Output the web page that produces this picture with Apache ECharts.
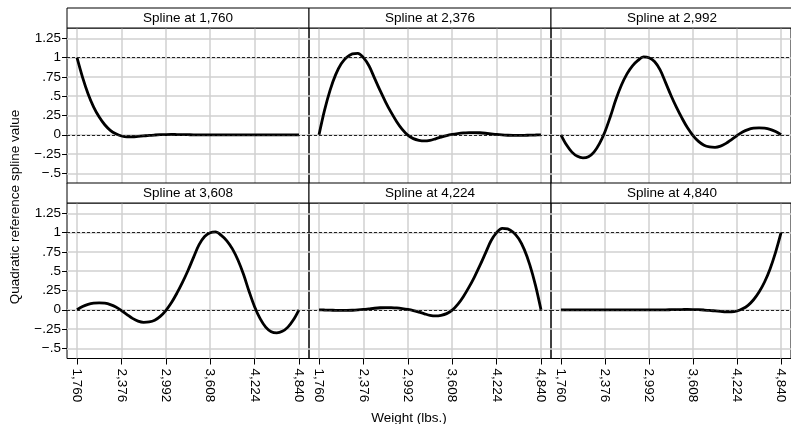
<!DOCTYPE html>
<html>
<head>
<meta charset="utf-8">
<script src="https://cdn.jsdelivr.net/npm/echarts@6/dist/echarts.min.js"></script>
<style>
  html, body { margin: 0; padding: 0; background: #fff; }
  #chart { width: 791px; height: 424px; }
</style>
</head>
<body>
<div id="chart"></div>
<script>
const weights = [1760, 1837, 1914, 1991, 2068, 2145, 2222, 2299, 2376, 2453, 2530,
  2607, 2684, 2761, 2838, 2915, 2992, 3069, 3146, 3223, 3300,
  3377, 3454, 3531, 3608, 3685, 3762, 3839, 3916, 3993, 4070,
  4147, 4224, 4301, 4378, 4455, 4532, 4609, 4686, 4763, 4840];

const spline1760 = [1, 0.745, 0.53, 0.36, 0.23, 0.13, 0.058, 0.012, -0.016, -0.028, -0.028,
  -0.022, -0.015, -0.008, -0.003, 0.001, 0.003, 0.004, 0.003, 0.002, 0.001,
  0, 0, 0, 0, 0, 0, 0, 0, 0, 0,
  0, 0, 0, 0, 0, 0, 0, 0, 0, 0];
const spline2376 = [0, 0.32, 0.58, 0.78, 0.92, 1.005, 1.05, 1.057, 1.0, 0.895, 0.735,
  0.575, 0.425, 0.29, 0.17, 0.07, -0.005, -0.05, -0.072, -0.08, -0.072,
  -0.052, -0.03, -0.01, 0.005, 0.016, 0.024, 0.028, 0.029, 0.026, 0.02,
  0.012, 0.004, -0.002, -0.006, -0.008, -0.008, -0.007, -0.005, -0.003, 0];
const spline2992 = [0, -0.13, -0.225, -0.28, -0.3, -0.285, -0.225, -0.115, 0.04, 0.24, 0.46,
  0.645, 0.79, 0.895, 0.965, 1.01, 1.0, 0.95, 0.845, 0.68, 0.51,
  0.355, 0.215, 0.09, -0.01, -0.085, -0.135, -0.158, -0.163, -0.148, -0.112,
  -0.062, -0.01, 0.035, 0.067, 0.085, 0.09, 0.085, 0.07, 0.042, 0];
const spline3608 = [0, 0.042, 0.07, 0.085, 0.09, 0.085, 0.067, 0.035, -0.01, -0.062, -0.112,
  -0.148, -0.163, -0.158, -0.135, -0.085, -0.01, 0.09, 0.215, 0.355, 0.51,
  0.68, 0.845, 0.95, 1.0, 1.01, 0.965, 0.895, 0.79, 0.645, 0.46,
  0.24, 0.04, -0.115, -0.225, -0.285, -0.3, -0.28, -0.225, -0.13, 0];
const spline4224 = [0, -0.003, -0.005, -0.007, -0.008, -0.008, -0.006, -0.002, 0.004, 0.012, 0.02,
  0.026, 0.029, 0.028, 0.024, 0.016, 0.005, -0.01, -0.03, -0.052, -0.072,
  -0.08, -0.072, -0.05, -0.005, 0.07, 0.17, 0.29, 0.425, 0.575, 0.735,
  0.895, 1.0, 1.057, 1.05, 1.005, 0.92, 0.78, 0.58, 0.32, 0];
const spline4840 = [0, 0, 0, 0, 0, 0, 0, 0, 0, 0,
  0, 0, 0, 0, 0, 0, 0, 0, 0, 0,
  0.001, 0.002, 0.003, 0.004, 0.003, 0.001, -0.003, -0.008, -0.015, -0.022,
  -0.028, -0.028, -0.016, 0.012, 0.058, 0.13, 0.23, 0.36, 0.53, 0.745, 1];

const panelTitles = ['Spline at 1,760', 'Spline at 2,376', 'Spline at 2,992',
  'Spline at 3,608', 'Spline at 4,224', 'Spline at 4,840'];
const panelValues = [spline1760, spline2376, spline2992, spline3608, spline4224, spline4840];

const xTickValues = [1760, 2376, 2992, 3608, 4224, 4840];
const xTickLabels = ['1,760', '2,376', '2,992', '3,608', '4,224', '4,840'];
const yTickValues = [-0.5, -0.25, 0, 0.25, 0.5, 0.75, 1, 1.25];
const yTickLabels = ['\u2212.5', '\u2212.25', '0', '.25', '.5', '.75', '1', '1.25'];
const refLines = [0, 1];

const FONT = '"Liberation Sans", Arial, Helvetica, sans-serif';
const FS = 13.5;
const PANEL_LEFT = 67, PANEL_W = 242;
const ROW_TOP = [8, 183], STRIP_H = 20, PLOT_H = 155.5;

const chart = echarts.init(document.getElementById('chart'));

const grid = [], xAxis = [], yAxis = [], series = [], graphic = [];

panelValues.forEach((vals, i) => {
  const col = i % 3, row = Math.floor(i / 3);
  const left = PANEL_LEFT + col * PANEL_W;
  const stripTop = ROW_TOP[row];
  const isBottom = row === 1, isLeft = col === 0;

  grid.push({
    left: left, top: stripTop + STRIP_H, width: PANEL_W, height: PLOT_H,
    show: true, borderColor: '#000', borderWidth: 1
  });

  xAxis.push({
    type: 'value', gridIndex: i, min: 1621, max: 4979,
    axisLine: { show: false, onZero: false },
    axisTick: {
      show: true, customValues: xTickValues, length: isBottom ? 6 : 0,
      lineStyle: { color: '#000' }
    },
    axisLabel: {
      show: isBottom, customValues: xTickValues, rotate: -90, margin: 10,
      color: '#000', fontSize: FS, fontFamily: FONT,
      formatter: v => xTickLabels[xTickValues.indexOf(v)] || ''
    },
    splitLine: { show: true, lineStyle: { color: '#d0d0d0', width: 1.5 } }
  });

  yAxis.push({
    type: 'value', gridIndex: i, min: -0.632, max: 1.385,
    axisLine: { show: false, onZero: false },
    axisTick: {
      show: true, customValues: yTickValues, length: isLeft ? 5 : 0,
      lineStyle: { color: '#000' }
    },
    axisLabel: {
      show: isLeft, customValues: yTickValues, margin: 6,
      color: '#000', fontSize: FS, fontFamily: FONT,
      formatter: v => yTickLabels[yTickValues.indexOf(v)] || ''
    },
    splitLine: { show: true, lineStyle: { color: '#d0d0d0', width: 1.5 } }
  });

  series.push({
    type: 'line', xAxisIndex: i, yAxisIndex: i,
    data: weights.map((w, k) => [w, vals[k]]),
    smooth: 0.35, showSymbol: false, symbol: 'none',
    lineStyle: { color: '#000', width: 2.8, type: 'solid' },
    markLine: {
      silent: true, symbol: 'none', label: { show: false }, animation: false,
      lineStyle: { color: '#222', width: 1, type: [3, 2] },
      data: refLines.map(v => ({ yAxis: v }))
    },
    z: 3
  });

  graphic.push({
    type: 'rect', shape: { x: left, y: stripTop, width: PANEL_W, height: STRIP_H },
    style: { fill: '#fff', stroke: '#000', lineWidth: 1 }, z: 10
  });
  graphic.push({
    type: 'text', x: left + PANEL_W / 2, y: stripTop + STRIP_H / 2,
    style: { text: panelTitles[i], fill: '#000', font: FS + 'px ' + FONT, align: 'center', verticalAlign: 'middle' },
    z: 11
  });
});

graphic.push({
  type: 'text', x: 15, y: 207, rotation: Math.PI / 2,
  style: { text: 'Quadratic reference spline value', fill: '#000', font: FS + 'px ' + FONT, align: 'center', verticalAlign: 'middle' },
  z: 11
});
graphic.push({
  type: 'text', x: 409, y: 418,
  style: { text: 'Weight (lbs.)', fill: '#000', font: FS + 'px ' + FONT, align: 'center', verticalAlign: 'middle' },
  z: 11
});

chart.setOption({ animation: false, grid, xAxis, yAxis, series, graphic });
</script>
</body>
</html>
